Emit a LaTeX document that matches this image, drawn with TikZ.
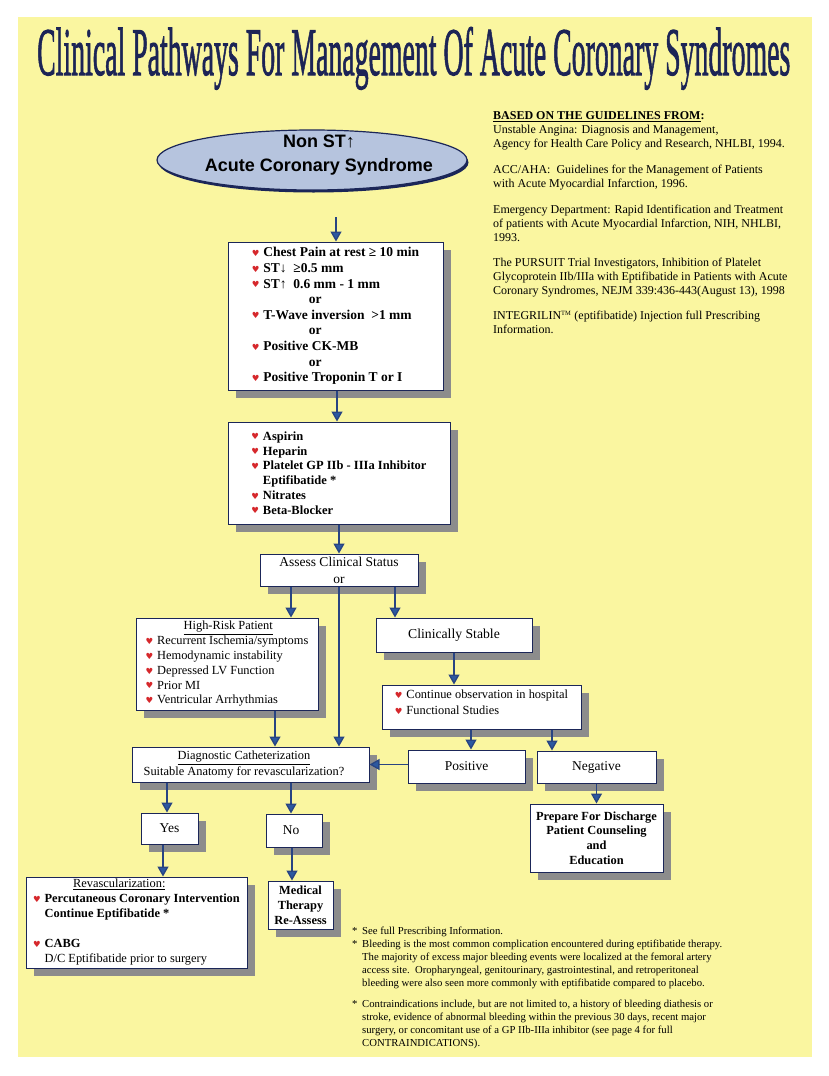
\documentclass[tikz,border=0pt]{standalone}
\usepackage{fontspec}
\setmainfont{Liberation Serif}
\setsansfont{Liberation Sans}
\newfontfamily\symf{DejaVu Sans}
\newfontfamily\titlefont[FakeBold=1.6]{Liberation Serif}
\usetikzlibrary{arrows.meta,shapes.geometric,shadows}
\definecolor{bgy}{RGB}{250,246,160}
\definecolor{navy}{RGB}{27,38,88}
\definecolor{shgray}{RGB}{140,140,140}
\definecolor{arrline}{RGB}{40,68,130}
\definecolor{arrhead}{RGB}{44,88,160}
\definecolor{heartred}{RGB}{214,40,44}
\definecolor{ellfill}{RGB}{182,196,222}
\definecolor{titlec}{RGB}{28,36,86}
\newcommand\fsz[2]{\fontsize{#1}{#2}\selectfont}
\newcommand\hrt{\makebox[11.5pt][l]{\raisebox{0.3pt}{\symf\fontsize{8.5}{9}\selectfont\textcolor{heartred}{♥}}}}
\begin{document}
\begin{tikzpicture}[x=1pt,y=-1pt,
  bx/.style={draw=navy, line width=1pt, fill=white, inner sep=0pt, text=black,
     drop shadow={shadow xshift=8pt, shadow yshift=-8pt, fill=shgray, opacity=1}},
  arr/.style={draw=arrline, line width=1.3pt, -{Triangle[width=11pt,length=10pt,fill=arrhead]}},
  txt/.style={inner sep=0pt, text=black},
]
\useasboundingbox (0,0) rectangle (828,1076);
\fill[white] (0,0) rectangle (828,1076);
\fill[bgy] (18,17) rectangle (812,1057);

\node[anchor=base west, inner sep=0pt, text=titlec] (title) at (37,75)
  {\resizebox{753pt}{48pt}{\titlefont Clinical Pathways For Management Of Acute Coronary Syndromes}};

\node[txt, anchor=north west, align=left, font=\fsz{12}{14}] (guide) at (493,111.5) {%
\textbf{\underline{BASED ON THE GUIDELINES FROM}:}\\
Unstable Angina: Diagnosis and Management,\\
Agency for Health Care Policy and Research, NHLBI, 1994.\\[12pt]
ACC/AHA:\ \ Guidelines for the Management of Patients\\
with Acute Myocardial Infarction, 1996.\\[12pt]
Emergency Department: Rapid Identification and Treatment\\
of patients with Acute Myocardial Infarction, NIH, NHLBI,\\
1993.\\[11pt]
The PURSUIT Trial Investigators, Inhibition of Platelet\\
Glycoprotein IIb/IIIa with Eptifibatide in Patients with Acute\\
Coronary Syndromes, NEJM 339:436-443(August 13), 1998\\[11pt]
INTEGRILIN\textsuperscript{\fsz{6.5}{7}TM} (eptifibatide) Injection full Prescribing\\
Information.};

\node[ellipse, draw=navy, line width=1.2pt, fill=ellfill, minimum width=310pt, minimum height=60pt, inner sep=0pt,
  drop shadow={shadow xshift=1.5pt, shadow yshift=-2.5pt, fill=navy, opacity=1}] (ell) at (312,160) {};
\node[txt, align=center, font=\sffamily\bfseries\fsz{18}{24}] (ellt) at (319,155) {Non ST↑\\Acute Coronary Syndrome};

\node[bx, minimum width=215pt, minimum height=148pt, align=left, font=\bfseries\fsz{13.5}{15.6}] (b1) at (335.5,316) {%
\hrt Chest Pain at rest ≥ 10 min\\
\hrt ST↓ \ ≥0.5 mm\\
\hrt ST↑ \ 0.6 mm - 1 mm\\
\hspace*{57pt}or\\
\hrt T-Wave inversion \ >1 mm\\
\hspace*{57pt}or\\
\hrt Positive CK-MB\\
\hspace*{57pt}or\\
\hrt Positive Troponin T or I};

\node[bx, minimum width=222pt, minimum height=102pt, align=left, font=\bfseries\fsz{12.5}{14.8}] (b2) at (339,473) {%
\hrt Aspirin\\
\hrt Heparin\\
\hrt Platelet GP IIb - IIIa Inhibitor\\
\hspace*{11.5pt}Eptifibatide *\\
\hrt Nitrates\\
\hrt Beta-Blocker};

\node[bx, minimum width=158pt, minimum height=32pt, align=center, font=\fsz{13.5}{17}] (as) at (339,570) {Assess Clinical Status\\or};

\node[bx, minimum width=182pt, minimum height=92pt, align=left, font=\fsz{12.4}{14.8}] (hr) at (227,664) {%
\hspace*{38pt}\underline{High-Risk Patient}\\
\hrt Recurrent Ischemia/symptoms\\
\hrt Hemodynamic instability\\
\hrt Depressed LV Function\\
\hrt Prior MI\\
\hrt Ventricular Arrhythmias};

\node[bx, minimum width=156pt, minimum height=34pt, font=\fsz{13.7}{16}] (cs) at (454,635) {Clinically Stable};

\node[bx, minimum width=199pt, minimum height=44pt, align=left, font=\fsz{12.4}{16}] (co) at (481.5,707) {%
\hrt Continue observation in hospital\\
\hrt Functional Studies\\[-12pt]
\strut};

\node[bx, minimum width=117pt, minimum height=33pt, font=\fsz{13.5}{16}] (pos) at (466.5,766.5) {Positive};
\node[bx, minimum width=119pt, minimum height=32pt, font=\fsz{13.5}{16}] (neg) at (596.5,767) {Negative};

\node[bx, minimum width=237pt, minimum height=35pt, font=\fsz{12.4}{15}] (dc) at (250.5,764.5) {%
\begin{tabular}{@{}c@{}}\underline{Diagnostic Catheterization}\\ Suitable Anatomy for revascularization?\end{tabular}\kern13pt};

\node[bx, minimum width=57pt, minimum height=31pt, font=\fsz{13.5}{16}] (yes) at (169.5,828.5) {Yes};
\node[bx, minimum width=56pt, minimum height=33pt, font=\fsz{13.5}{16}] (no) at (294,830.5) {No\kern6pt};

\node[bx, minimum width=221pt, minimum height=91pt, align=left, font=\fsz{12.4}{15}] (rv) at (136.5,922.5) {%
\hspace*{40pt}\underline{Revascularization:}\\
\hrt\textbf{Percutaneous Coronary Intervention}\\
\hspace*{11.5pt}\textbf{Continue Eptifibatide *}\\
\strut\\
\hrt\textbf{CABG}\\
\hspace*{11.5pt}D/C Eptifibatide prior to surgery};

\node[bx, minimum width=65pt, minimum height=48pt, align=center, font=\bfseries\fsz{12.4}{15}] (mt) at (300.5,905) {Medical\\Therapy\\Re-Assess};

\node[bx, minimum width=133pt, minimum height=68pt, align=center, font=\bfseries\fsz{12.4}{14.7}] (pd) at (596.5,838) {Prepare For Discharge\\Patient Counseling\\and\\Education};

\node[txt, anchor=north west, align=left, font=\fsz{10.7}{13}] (fn) at (352,927) {%
\makebox[10pt][l]{*}See full Prescribing Information.\\
\makebox[10pt][l]{*}Bleeding is the most common complication encountered during eptifibatide therapy.\\
\hspace*{10pt}The majority of excess major bleeding events were localized at the femoral artery\\
\hspace*{10pt}access site.\ \ Oropharyngeal, genitourinary, gastrointestinal, and retroperitoneal\\
\hspace*{10pt}bleeding were also seen more commonly with eptifibatide compared to placebo.\\[8pt]
\makebox[10pt][l]{*}Contraindications include, but are not limited to, a history of bleeding diathesis or\\
\hspace*{10pt}stroke, evidence of abnormal bleeding within the previous 30 days, recent major\\
\hspace*{10pt}surgery, or concomitant use of a GP IIb-IIIa inhibitor (see page 4 for full\\
\hspace*{10pt}CONTRAINDICATIONS).};

\coordinate (s0) at (336,217);
\draw[arr] (s0) -- (s0 |- b1.north);
\draw[arr] ([xshift=1.5pt]b1.south) -- ([xshift=1.5pt]b1.south |- b2.north);
\draw[arr] (b2.south) -- (b2.south |- as.north);
\draw[arr] ([xshift=-48pt]as.south) -- ([xshift=-48pt]as.south |- hr.north);
\draw[arr] (as.south) -- (as.south |- dc.north);
\draw[arr] ([xshift=56pt]as.south) -- ([xshift=56pt]as.south |- cs.north);
\draw[arr] ([xshift=48pt]hr.south) -- ([xshift=48pt]hr.south |- dc.north);
\draw[arr] (cs.south) -- (cs.south |- co.north);
\draw[arr] ([xshift=-10.5pt]co.south) -- ([xshift=-10.5pt]co.south |- pos.north);
\draw[arr] ([xshift=70.5pt]co.south) -- ([xshift=70.5pt]co.south |- neg.north);
\draw[arr] ([yshift=2pt]pos.west) -- ([yshift=2pt]pos.west -| dc.east);
\draw[arr] ([xshift=-83.5pt]dc.south) -- ([xshift=-83.5pt]dc.south |- yes.north);
\draw[arr] ([xshift=40.5pt]dc.south) -- ([xshift=40.5pt]dc.south |- no.north);
\draw[arr] ([xshift=-6.5pt]yes.south) -- ([xshift=-6.5pt]yes.south |- rv.north);
\draw[arr] ([xshift=-2pt]no.south) -- ([xshift=-2pt]no.south |- mt.north);
\draw[arr] (neg.south) -- (neg.south |- pd.north);
\end{tikzpicture}
\end{document}
